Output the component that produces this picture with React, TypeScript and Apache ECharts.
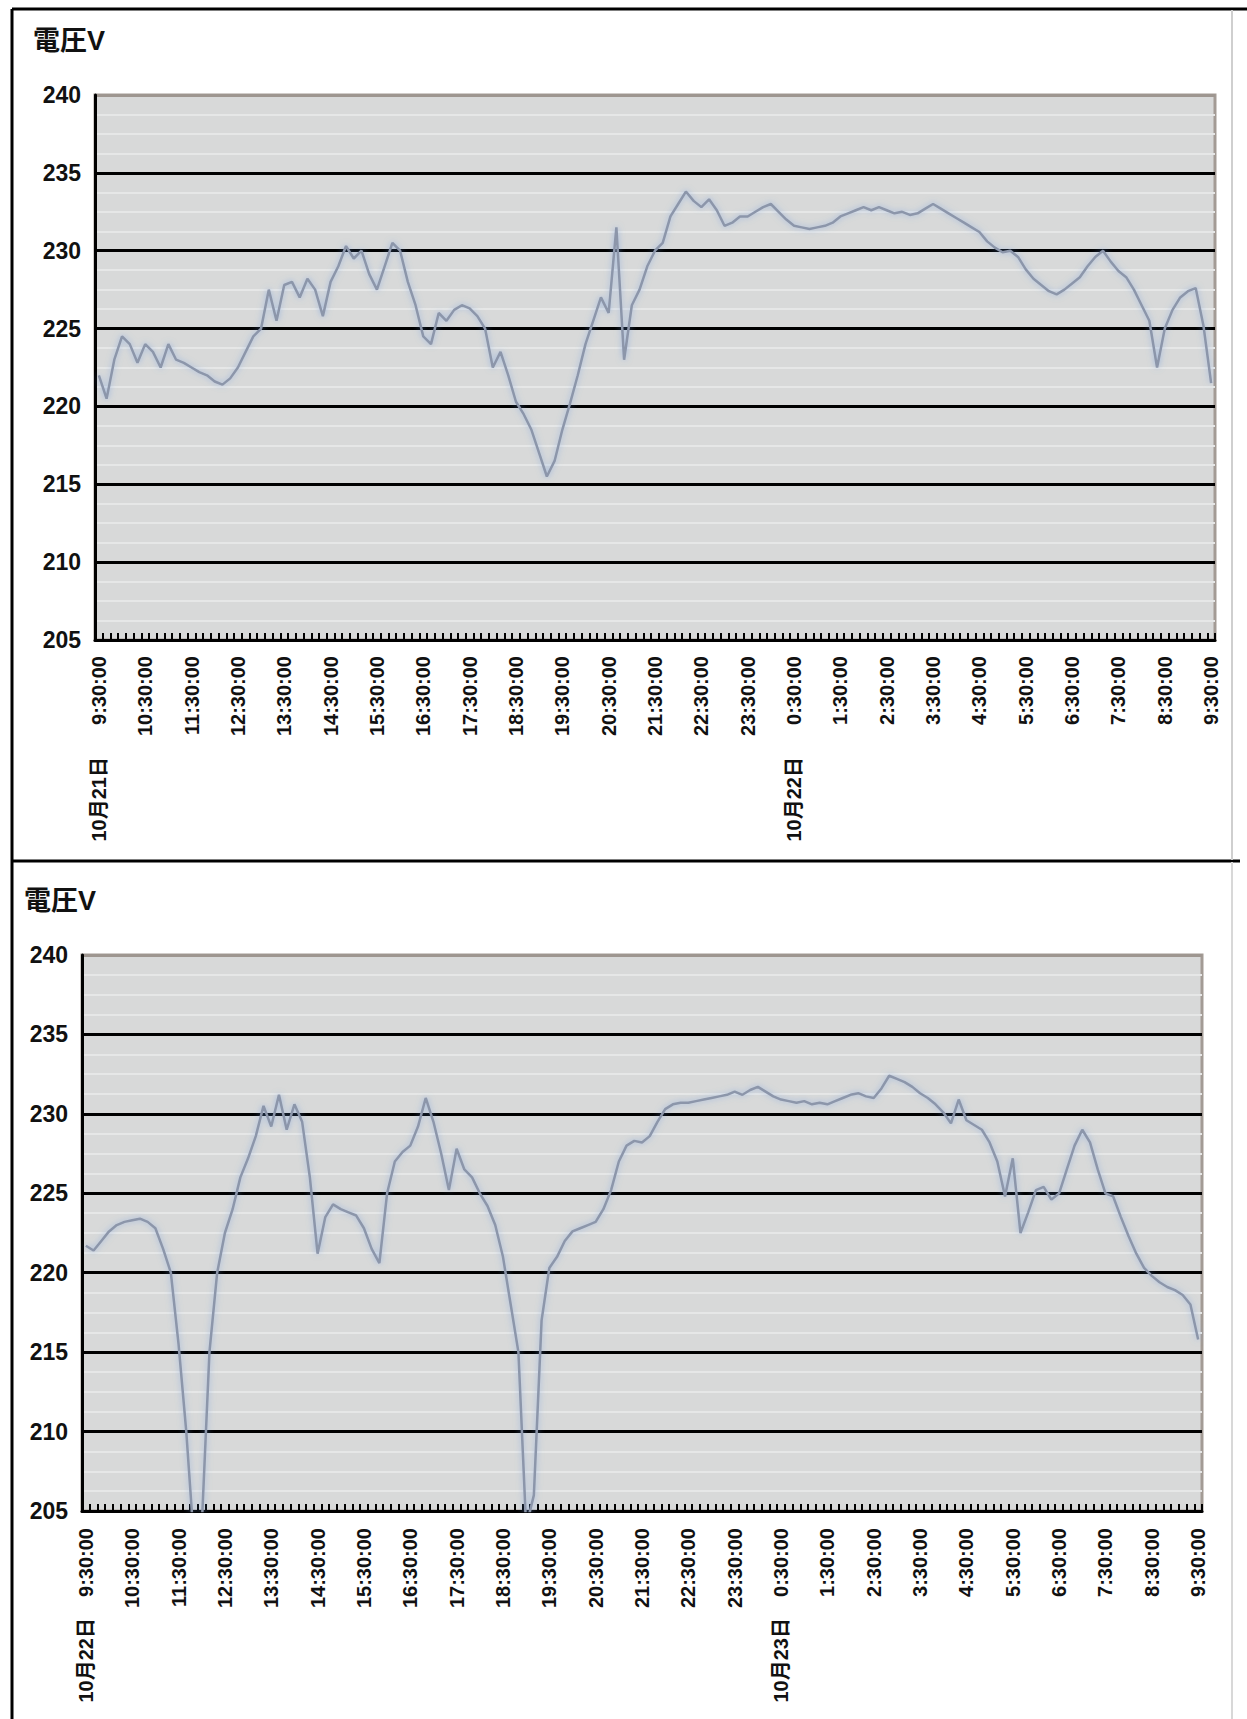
import React, { useEffect, useRef } from "react";
import * as echarts from "echarts";

// ---- data (10-minute readings, 9:30 → 9:30 next day) ----
const yTicks = [205, 210, 215, 220, 225, 230, 235, 240];
const titleText = "電圧V";

const topDateLabels = ["10月21日", "10月22日"];
const bottomDateLabels = ["10月22日", "10月23日"];
const dateIndices = [0, 90];

const topVoltage = [
  222, 220.5, 223, 224.5, 224, 222.8, 224, 223.5, 222.5, 224,
  223, 222.8, 222.5, 222.2, 222, 221.6, 221.4, 221.8, 222.5, 223.5,
  224.5, 225, 227.5, 225.5, 227.8, 228, 227, 228.2, 227.5, 225.8,
  228, 229, 230.3, 229.5, 230, 228.5, 227.5, 229, 230.5, 230,
  228, 226.5, 224.5, 224, 226, 225.5, 226.2, 226.5, 226.3, 225.8,
  225, 222.5, 223.5, 222, 220.3, 219.5, 218.5, 217, 215.5, 216.5,
  218.5, 220.2, 222, 224, 225.5, 227, 226, 231.5, 223, 226.5,
  227.5, 229, 230, 230.5, 232.2, 233, 233.8, 233.2, 232.8, 233.3,
  232.6, 231.6, 231.8, 232.2, 232.2, 232.5, 232.8, 233, 232.5, 232,
  231.6, 231.5, 231.4, 231.5, 231.6, 231.8, 232.2, 232.4, 232.6, 232.8,
  232.6, 232.8, 232.6, 232.4, 232.5, 232.3, 232.4, 232.7, 233, 232.7,
  232.4, 232.1, 231.8, 231.5, 231.2, 230.6, 230.2, 229.9, 230, 229.6,
  228.8, 228.2, 227.8, 227.4, 227.2, 227.5, 227.9, 228.3, 229, 229.6,
  230, 229.3, 228.7, 228.3, 227.5, 226.5, 225.5, 222.5, 225, 226.2,
  227, 227.4, 227.6, 225.2, 221.5,
];

const bottomVoltage = [
  221.7, 221.4, 222, 222.6, 223, 223.2, 223.3, 223.4, 223.2, 222.8,
  221.5, 220, 215.5, 210, 203, 204, 215, 220, 222.5, 224,
  226, 227.2, 228.6, 230.5, 229.2, 231.2, 229, 230.6, 229.5, 226,
  221.2, 223.5, 224.3, 224, 223.8, 223.6, 222.8, 221.5, 220.6, 225,
  227, 227.6, 228, 229.2, 231, 229.5, 227.5, 225.2, 227.8, 226.5,
  226, 225, 224.2, 223, 221, 218, 215, 204, 206, 217,
  220.3, 221, 222, 222.6, 222.8, 223, 223.2, 224, 225.2, 227,
  228, 228.3, 228.2, 228.6, 229.5, 230.3, 230.6, 230.7, 230.7, 230.8,
  230.9, 231, 231.1, 231.2, 231.4, 231.2, 231.5, 231.7, 231.4, 231.1,
  230.9, 230.8, 230.7, 230.8, 230.6, 230.7, 230.6, 230.8, 231, 231.2,
  231.3, 231.1, 231, 231.6, 232.4, 232.2, 232, 231.7, 231.3, 231,
  230.6, 230.1, 229.4, 230.9, 229.6, 229.3, 229, 228.2, 227, 224.8,
  227.2, 222.5, 223.8, 225.2, 225.4, 224.6, 225, 226.5, 228, 229,
  228.2, 226.5, 225, 224.8, 223.5, 222.3, 221.2, 220.3, 219.8, 219.4,
  219.1, 218.9, 218.6, 218, 215.8,
];

// category axis: every 10 minutes starting 9:30:00
const times: string[] = [];
for (let k = 0; k < topVoltage.length; k++) {
  const t = 9 * 60 + 30 + 10 * k;
  const h = Math.floor(t / 60) % 24;
  const m = t % 60;
  times.push(`${h}:${String(m).padStart(2, "0")}:00`);
}

function dateAxisData(labels: string[]): string[] {
  const arr = times.map(() => "");
  dateIndices.forEach((idx, j) => {
    arr[idx] = labels[j];
  });
  return arr;
}

const FONT = "'Liberation Sans', 'Noto Sans CJK JP', Arial, sans-serif";

function timeAxis(gridIndex: number, margin: number) {
  return {
    type: "category",
    gridIndex,
    data: times,
    boundaryGap: true,
    axisLine: { show: true, lineStyle: { color: "#000", width: 3 } },
    axisTick: { show: true, inside: true, interval: 0, length: 7, lineStyle: { color: "#000", width: 2 } },
    axisLabel: {
      interval: 5,
      rotate: 90,
      margin,
      color: "#111",
      fontSize: 20,
      fontWeight: "bold",
      fontFamily: FONT,
    },
    splitLine: { show: false },
  };
}

function dateAxis(gridIndex: number, labels: string[], offset: number) {
  return {
    type: "category",
    gridIndex,
    position: "bottom",
    offset,
    data: dateAxisData(labels),
    boundaryGap: true,
    axisLine: { show: false },
    axisTick: { show: false },
    axisLabel: {
      interval: 0,
      rotate: 90,
      margin: 0,
      color: "#111",
      fontSize: 20,
      fontWeight: "bold",
      fontFamily: FONT,
    },
    splitLine: { show: false },
  };
}

function voltAxis(gridIndex: number) {
  return {
    type: "value",
    gridIndex,
    min: yTicks[0],
    max: yTicks[yTicks.length - 1],
    interval: 5,
    axisLine: { show: true, lineStyle: { color: "#000", width: 3 } },
    axisTick: { show: false },
    axisLabel: {
      margin: 14,
      color: "#111",
      fontSize: 23,
      fontWeight: "bold",
      fontFamily: FONT,
    },
    splitLine: {
      show: true,
      lineStyle: {
        color: ["#000", "#000", "#000", "#000", "#000", "#000", "#000", "#9e9690"],
        width: 3,
      },
    },
    minorTick: { show: false, splitNumber: 4 },
    minorSplitLine: { show: true, lineStyle: { color: "#e6e7e7", width: 2 } },
  };
}

function lineSeries(xi: number, yi: number, data: number[]) {
  return {
    type: "line",
    xAxisIndex: xi,
    yAxisIndex: yi,
    data,
    showSymbol: false,
    clip: true,
    lineStyle: {
      color: "#8c96aa",
      width: 2.5,
      shadowColor: "rgba(100,150,225,0.55)",
      shadowBlur: 6,
    },
  };
}

export default function App() {
  const ref = useRef<HTMLDivElement>(null);

  useEffect(() => {
    if (!ref.current) return;
    const chart = echarts.init(ref.current, undefined, { renderer: "svg" });
    chart.setOption({
      animation: false,
      backgroundColor: "#ffffff",
      title: [
        {
          text: titleText,
          left: 28,
          top: 22,
          textStyle: { fontSize: 27, fontWeight: "bold", color: "#111", fontFamily: FONT },
        },
        {
          text: titleText,
          left: 19,
          top: 882,
          textStyle: { fontSize: 27, fontWeight: "bold", color: "#111", fontFamily: FONT },
        },
      ],
      grid: [
        {
          left: 95,
          top: 95,
          width: 1120,
          height: 545,
          show: true,
          backgroundColor: "#d8d9d9",
          borderColor: "#a39b95",
          borderWidth: 3,
        },
        {
          left: 82,
          top: 955,
          width: 1120,
          height: 556,
          show: true,
          backgroundColor: "#d8d9d9",
          borderColor: "#a39b95",
          borderWidth: 3,
        },
      ],
      xAxis: [
        timeAxis(0, 16),
        dateAxis(0, topDateLabels, 117),
        timeAxis(1, 17),
        dateAxis(1, bottomDateLabels, 107),
      ],
      yAxis: [voltAxis(0), voltAxis(1)],
      series: [lineSeries(0, 0, topVoltage), lineSeries(2, 1, bottomVoltage)],
      graphic: [
        { type: "line", shape: { x1: 12, y1: 9, x2: 1247, y2: 9 }, style: { stroke: "#000", lineWidth: 3 } },
        { type: "line", shape: { x1: 12, y1: 9, x2: 12, y2: 1719 }, style: { stroke: "#000", lineWidth: 3 } },
        { type: "line", shape: { x1: 12, y1: 861, x2: 1240, y2: 861 }, style: { stroke: "#000", lineWidth: 3 } },
        { type: "line", shape: { x1: 1232, y1: 10, x2: 1232, y2: 860 }, style: { stroke: "#cfcfcf", lineWidth: 2 } },
        { type: "line", shape: { x1: 1232, y1: 862, x2: 1232, y2: 1719 }, style: { stroke: "#d8d8d8", lineWidth: 2 } },
      ],
    });
    return () => chart.dispose();
  }, []);

  return (
    <div
      ref={ref}
      style={{ position: "absolute", left: 0, top: 0, width: 1247, height: 1719 }}
    />
  );
}
